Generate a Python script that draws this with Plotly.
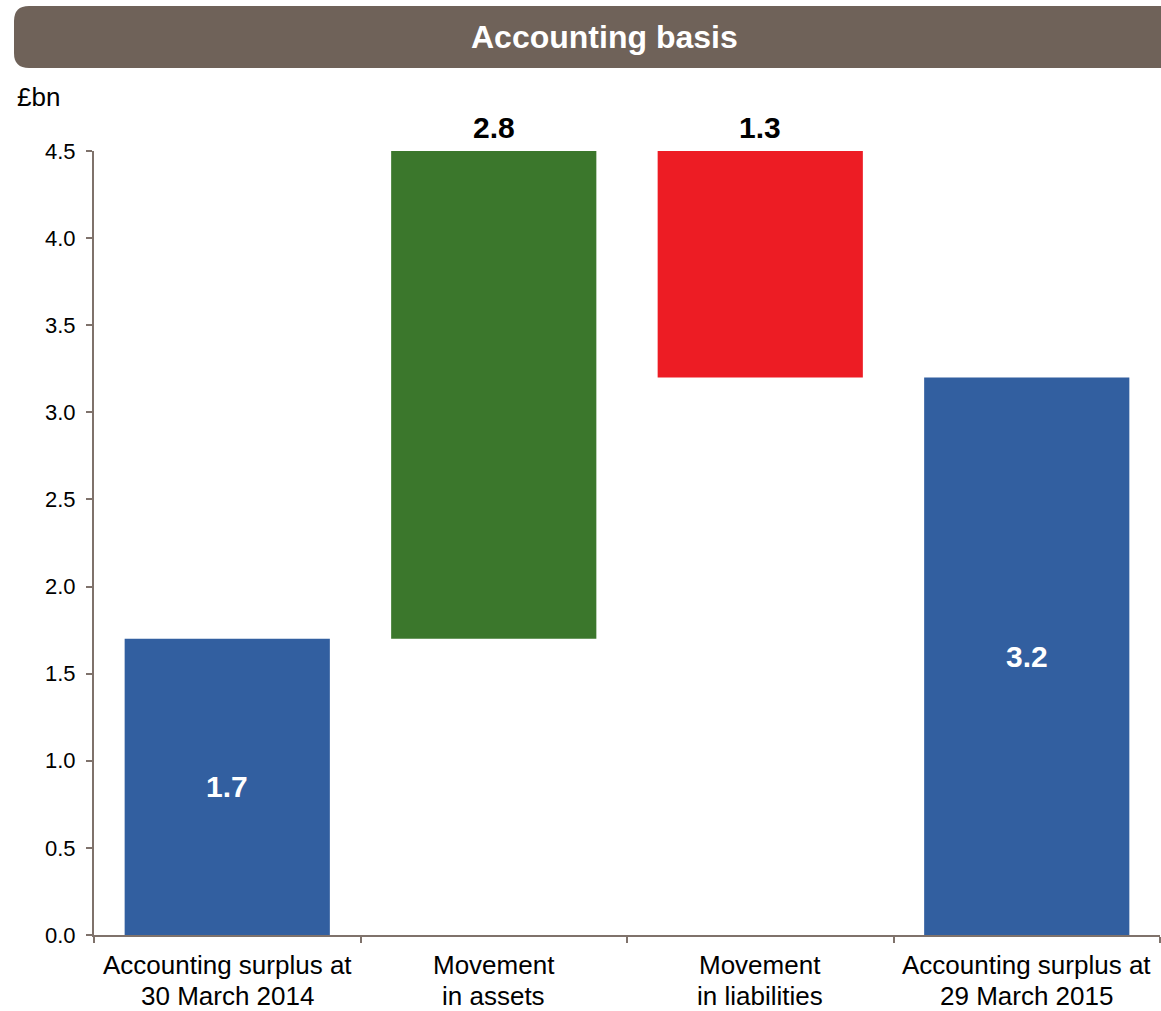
import plotly.graph_objects as go

# Waterfall data (£bn)
categories = [
    "Accounting surplus at 30 March 2014",
    "Movement in assets",
    "Movement in liabilities",
    "Accounting surplus at 29 March 2015",
]
category_lines = [
    ["Accounting surplus at", "30 March 2014"],
    ["Movement", "in assets"],
    ["Movement", "in liabilities"],
    ["Accounting surplus at", "29 March 2015"],
]
values = [1.7, 2.8, -1.3, 3.2]
kinds = ["total", "delta", "delta", "total"]
bar_colors = ["#325fa0", "#3b772c", "#ed1c24", "#325fa0"]
y_ticks = [0.0, 0.5, 1.0, 1.5, 2.0, 2.5, 3.0, 3.5, 4.0, 4.5]

# Floating bases for the movement bars
bases = []
running = 0.0
for v, k in zip(values, kinds):
    if k == "total":
        bases.append(0.0)
        running = v
    else:
        bases.append(running)
        running += v

W, H = 1161, 1011
ML, MR, MT, MB = 94, 1, 151, 76
PW, PH = W - ML - MR, H - MT - MB


def px(x):
    return (x - ML) / PW


def py(y):
    return (H - MB - y) / PH


AXIS = "#7f726b"
FONT = "Liberation Sans, Arial, sans-serif"

fig = go.Figure()
fig.add_trace(go.Bar(
    x=categories,
    y=values,
    base=bases,
    marker=dict(color=bar_colors, line=dict(width=0)),
    width=0.77,
    hoverinfo="skip",
))

annotations = []
for i, (v, b, k) in enumerate(zip(values, bases, kinds)):
    label = f"{abs(v):.1f}"
    if k == "total":
        annotations.append(dict(
            x=categories[i], y=b + v / 2, text=f"<b>{label}</b>",
            showarrow=False, font=dict(family=FONT, size=30, color="white"),
            xanchor="center", yanchor="middle",
        ))
    else:
        top = max(b, b + v)
        annotations.append(dict(
            x=categories[i], y=top, text=f"<b>{label}</b>",
            showarrow=False, font=dict(family=FONT, size=30, color="black"),
            xanchor="center", yanchor="bottom", yshift=5,
        ))

# Two-line category labels under the axis, with tight line spacing
for cat, lines in zip(categories, category_lines):
    for j, line in enumerate(lines):
        annotations.append(dict(
            x=cat, xref="x", yref="paper", y=py(965 + 31 * j),
            text=line, showarrow=False,
            font=dict(family=FONT, size=26, color="black"),
            xanchor="center", yanchor="middle",
        ))

# Header bar with rounded left corners
x0, x1, y0, y1, r = 14, 1161, 6, 68, 15
path = (
    f"M {px(x0 + r)} {py(y0)} L {px(x1)} {py(y0)} L {px(x1)} {py(y1)} "
    f"L {px(x0 + r)} {py(y1)} Q {px(x0)} {py(y1)} {px(x0)} {py(y1 - r)} "
    f"L {px(x0)} {py(y0 + r)} Q {px(x0)} {py(y0)} {px(x0 + r)} {py(y0)} Z"
)
shapes = [dict(type="path", xref="paper", yref="paper", path=path,
               fillcolor="#6f6259", line=dict(width=0), layer="above")]

annotations.append(dict(
    xref="paper", yref="paper", x=px(604), y=py(37),
    text="<b>Accounting basis</b>", showarrow=False,
    font=dict(family=FONT, size=32, color="white"),
    xanchor="center", yanchor="middle",
))
annotations.append(dict(
    xref="paper", yref="paper", x=px(15), y=py(97),
    text="£bn", showarrow=False,
    font=dict(family=FONT, size=26, color="black"),
    xanchor="left", yanchor="middle",
))

fig.update_layout(
    width=W, height=H,
    margin=dict(l=ML, r=MR, t=MT, b=MB, pad=0, autoexpand=False),
    paper_bgcolor="white", plot_bgcolor="white",
    showlegend=False,
    font=dict(family=FONT, color="black"),
    annotations=annotations,
    shapes=shapes,
    bargap=0.23,
)
fig.update_xaxes(
    type="category", automargin=False,
    showgrid=False, zeroline=False,
    showline=True, linecolor=AXIS, linewidth=2,
    ticks="outside", tickson="boundaries", ticklen=6, tickwidth=2, tickcolor=AXIS,
    showticklabels=False,
)
fig.update_yaxes(
    range=[0, 4.5], automargin=False,
    tickvals=y_ticks, ticktext=[f"{t:.1f}" for t in y_ticks],
    showgrid=False, zeroline=False,
    showline=True, linecolor=AXIS, linewidth=2,
    ticks="outside", ticklen=6, tickwidth=2, tickcolor=AXIS,
    tickfont=dict(family=FONT, size=22, color="black"),
    ticklabelstandoff=6,
)

fig.write_html("out.html")
